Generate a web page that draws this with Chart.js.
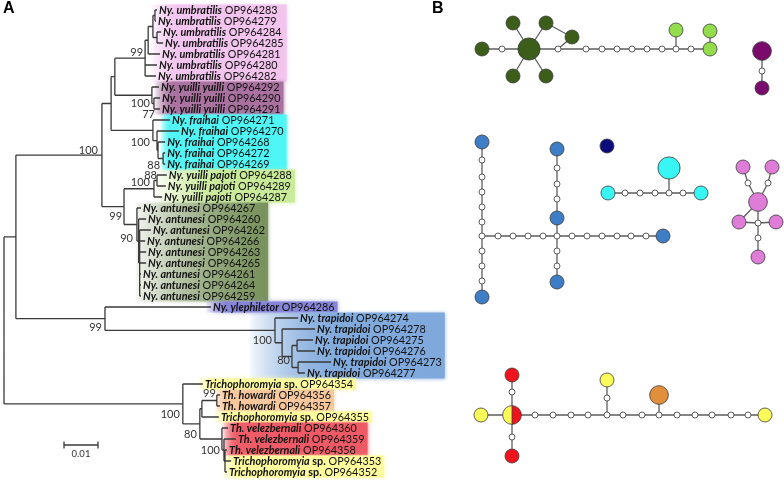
<!DOCTYPE html>
<html>
<head>
<meta charset="utf-8">
<script src="https://cdn.jsdelivr.net/npm/chart.js@4.4.1/dist/chart.umd.min.js"></script>
<style>
  html, body { margin: 0; padding: 0; background: #fff; }
  #wrap { width: 784px; height: 480px; }
</style>
</head>
<body>
<div id="wrap"><canvas id="chart" width="784" height="480"></canvas></div>
<script>
// ---------- panel A: ML tree ----------
const leafSpecies = [
  'Ny. umbratilis', 'Ny. umbratilis', 'Ny. umbratilis', 'Ny. umbratilis', 'Ny. umbratilis', 'Ny. umbratilis', 'Ny. umbratilis',
  'Ny. yuilli yuilli', 'Ny. yuilli yuilli', 'Ny. yuilli yuilli',
  'Ny. fraihai', 'Ny. fraihai', 'Ny. fraihai', 'Ny. fraihai', 'Ny. fraihai',
  'Ny. yuilli pajoti', 'Ny. yuilli pajoti', 'Ny. yuilli pajoti',
  'Ny. antunesi', 'Ny. antunesi', 'Ny. antunesi', 'Ny. antunesi', 'Ny. antunesi', 'Ny. antunesi', 'Ny. antunesi', 'Ny. antunesi', 'Ny. antunesi',
  'Ny. ylephiletor',
  'Ny. trapidoi', 'Ny. trapidoi', 'Ny. trapidoi', 'Ny. trapidoi', 'Ny. trapidoi', 'Ny. trapidoi',
  'Trichophoromyia sp.', 'Th. howardi', 'Th. howardi', 'Trichophoromyia sp.',
  'Th. velezbernali', 'Th. velezbernali', 'Th. velezbernali', 'Trichophoromyia sp.', 'Trichophoromyia sp.'
];
const leafAccession = [
  'OP964283', 'OP964279', 'OP964284', 'OP964285', 'OP964281', 'OP964280', 'OP964282',
  'OP964292', 'OP964290', 'OP964291',
  'OP964271', 'OP964270', 'OP964268', 'OP964272', 'OP964269',
  'OP964288', 'OP964289', 'OP964287',
  'OP964267', 'OP964260', 'OP964262', 'OP964266', 'OP964263', 'OP964265', 'OP964261', 'OP964264', 'OP964259',
  'OP964286',
  'OP964274', 'OP964278', 'OP964275', 'OP964276', 'OP964273', 'OP964277',
  'OP964354', 'OP964356', 'OP964357', 'OP964355',
  'OP964360', 'OP964359', 'OP964358', 'OP964353', 'OP964352'
];
const leafParent = [
  'U3', 'U3', 'U4', 'U4', 'U1', 'U', 'U',
  'Y', 'Y2', 'Y2',
  'F', 'F2', 'F3', 'F4', 'F4',
  'P2', 'P2', 'P',
  'An', 'An2', 'An3', 'An3', 'An3', 'An3', 'An3', 'An3', 'An3',
  'Q',
  'Tr', 'Tr2', 'Tr4', 'Tr4', 'Tr5', 'Tr5',
  'T', 'H', 'H', 'T3',
  'V', 'V2', 'V3', 'V3', 'V3'
];
// distance from the root (substitutions/site)
const leafDepth = [
  0.0450, 0.0447, 0.0462, 0.0468, 0.0459, 0.0450, 0.0447,
  0.0456, 0.0459, 0.0459,
  0.0488, 0.0515, 0.0474, 0.0474, 0.0474,
  0.0479, 0.0476, 0.0465,
  0.0403, 0.0418, 0.0432, 0.0415, 0.0418, 0.0418, 0.0403, 0.0403, 0.0403,
  0.0609,
  0.0865, 0.0915, 0.0909, 0.0915, 0.0962, 0.0885,
  0.0585, 0.0635, 0.0635, 0.0632,
  0.0659, 0.0682, 0.0656, 0.0668, 0.0656
];
const nodeIds    = ['R', 'Nys', 'A', 'B', 'UY', 'U', 'U1', 'U2', 'U3', 'U4', 'Y', 'Y2', 'F', 'F2', 'F3', 'F4',
                    'AP', 'P', 'P2', 'An', 'An2', 'An3', 'Q', 'Tr', 'Tr2', 'Tr3', 'Tr4', 'Tr5',
                    'T', 'T2', 'T3', 'H', 'V', 'V2', 'V3'];
const nodeParent = [null, 'R', 'Nys', 'A', 'B', 'UY', 'U', 'U1', 'U2', 'U2', 'UY', 'Y', 'B', 'F', 'F2', 'F3',
                    'A', 'AP', 'P', 'AP', 'An', 'An2', 'Nys', 'Q', 'Tr', 'Tr2', 'Tr3', 'Tr3',
                    'R', 'T', 'T2', 'T3', 'T2', 'V', 'V2'];
const nodeDepth  = [0, 0.0035, 0.0288, 0.0315, 0.0326, 0.0415, 0.0424, 0.0438, 0.0444, 0.0450, 0.0435, 0.0441, 0.0438, 0.0450, 0.0453, 0.0468,
                    0.0353, 0.0441, 0.0450, 0.0391, 0.0396, 0.0399, 0.0297, 0.0797, 0.0818, 0.0847, 0.0862, 0.0865,
                    0.0526, 0.0576, 0.0582, 0.0626, 0.0641, 0.0647, 0.0650];

const supportNodes  = ['A', 'U', 'Y', 'Y2', 'F', 'F4', 'P', 'P2', 'AP', 'An', 'Q', 'Tr', 'Tr3', 'H', 'T', 'T2', 'V'];
const supportValues = [100, 99, 100, 77, 100, 88, 100, 88, 99, 90, 99, 100, 80, 99, 100, 80, 100];

const cladeFirst  = [0, 7, 10, 15, 18, 27, 28, 34, 35, 37, 38, 41];
const cladeLast   = [6, 9, 14, 17, 26, 27, 33, 34, 36, 37, 40, 42];
const cladeColors = ['#f2c4ee', '#a9719f', '#4ff6f6', '#c9ea98', '#76905a', '#8583d6',
                     '#7fa9dc', '#fdfc9c', '#f8c79b', '#fdfc9c', '#ee5a66', '#fdfc9c'];

const scaleBarLength = 0.01;

// ---------- panel B: haplotype networks ----------
// layout units of the network drawing, count = sequences per haplotype (0 = median vector)
const hapIds = [
  'g1', 'm1', 'G', 'g2', 'g3', 'g4', 'g5', 'g6', 'm2', 'm3', 'm4', 'm5', 'm6', 'm7', 'm8', 'm9', 'm10', 'p1', 'p2', 'p3',
  'y1', 'm11', 'y2',
  'b1', 'a1', 'a2', 'a3', 'a4', 'a5', 'J1', 'a6', 'a7', 'a8', 'b2',
  'h1', 'h2', 'h3', 'h4', 'J2', 'h5', 'h6', 'h7', 'h8', 'h9', 'h10', 'b3',
  'b4', 'k1', 'k2', 'k3', 'b5', 'k4', 'k5', 'b6', 'n1',
  'c1', 'q1', 'q2', 'q3', 'Jc', 'q4', 'c2', 'C',
  'P', 'e1', 'r1', 'e2', 'r2', 'e3', 'e4', 'Jp', 'r3', 'e5',
  'yA', 'S', 'rT', 's1', 'rB', 's2', 't1', 't2', 't3', 't4', 'Jy', 't5', 't6', 'Jo', 't7', 't8', 't9', 't10', 't11', 'yB',
  's3', 'yC', 'O'
];
const hapU = [
  6.2, 8.2, 10.9, 9.3, 12.6, 15.2, 9.3, 12.6, 13.8, 16.6, 18.2, 19.7, 21.2, 22.7, 24.2, 25.6, 27.1, 29.0, 25.6, 29.0,
  34.2, 34.2, 34.2,
  6.2, 6.2, 6.2, 6.2, 6.2, 6.2, 6.2, 6.2, 6.2, 6.2, 6.2,
  7.8, 9.3, 10.8, 12.3, 13.7, 15.2, 16.7, 18.2, 19.7, 21.1, 22.6, 24.3,
  13.7, 13.7, 13.7, 13.7, 13.7, 13.7, 13.7, 13.7, 18.7,
  18.8, 20.5, 22.0, 23.5, 24.9, 26.3, 28.1, 24.9,
  33.8, 32.3, 32.8, 35.2, 34.8, 31.9, 35.6, 33.8, 33.8, 33.8,
  6.1, 9.2, 9.2, 9.2, 9.2, 9.2, 11.5, 13.3, 15.1, 16.8, 18.7, 20.3, 22.2, 23.9, 25.7, 27.5, 29.2, 31.1, 32.8, 34.5,
  18.7, 18.7, 23.9
];
const hapV = [
  4.9, 4.9, 4.9, 2.3, 2.3, 3.7, 7.6, 7.6, 4.9, 4.9, 4.9, 4.9, 4.9, 4.9, 4.9, 4.9, 4.9, 4.9, 3.0, 3.1,
  5.1, 7.1, 8.8,
  14.2, 16.0, 17.7, 19.2, 20.7, 22.2, 23.6, 25.1, 26.6, 28.1, 29.7,
  23.6, 23.6, 23.6, 23.6, 23.6, 23.6, 23.6, 23.6, 23.6, 23.6, 23.6, 23.6,
  21.8, 19.9, 18.4, 16.8, 14.9, 25.1, 26.6, 28.2, 14.6,
  19.3, 19.3, 19.3, 19.3, 19.3, 19.3, 19.3, 16.8,
  20.2, 16.7, 18.3, 16.7, 18.3, 22.2, 22.2, 22.3, 23.8, 25.7,
  41.5, 41.5, 37.5, 39.2, 45.6, 43.7, 41.5, 41.5, 41.5, 41.5, 41.5, 41.5, 41.5, 41.5, 41.5, 41.5, 41.5, 41.5, 41.5, 41.5,
  39.8, 38.0, 39.5
];
const hapCount = [
  1, 0, 3, 1, 1, 1, 1, 1, 0, 0, 0, 0, 0, 0, 0, 0, 0, 1, 1, 1,
  2, 0, 1,
  1, 0, 0, 0, 0, 0, 0, 0, 0, 0, 1,
  0, 0, 0, 0, 0, 0, 0, 0, 0, 0, 0, 1,
  1, 0, 0, 0, 1, 0, 0, 1, 1,
  1, 0, 0, 0, 0, 0, 1, 3,
  2, 1, 0, 1, 0, 1, 1, 0, 0, 1,
  1, 2, 1, 0, 1, 0, 0, 0, 0, 0, 0, 0, 0, 0, 0, 0, 0, 0, 0, 1,
  0, 1, 2
];
const hapTaxon = [
  'ant', 'med', 'ant', 'ant', 'ant', 'ant', 'ant', 'ant', 'med', 'med', 'med', 'med', 'med', 'med', 'med', 'med', 'med', 'paj', 'paj', 'paj',
  'yy', 'med', 'yy',
  'tra', 'med', 'med', 'med', 'med', 'med', 'med', 'med', 'med', 'med', 'tra',
  'med', 'med', 'med', 'med', 'med', 'med', 'med', 'med', 'med', 'med', 'med', 'tra',
  'tra', 'med', 'med', 'med', 'tra', 'med', 'med', 'tra', 'yle',
  'fra', 'med', 'med', 'med', 'med', 'med', 'fra', 'fra',
  'umb', 'umb', 'med', 'umb', 'med', 'umb', 'umb', 'med', 'med', 'umb',
  'tri', 'tri+vel', 'vel', 'med', 'vel', 'med', 'med', 'med', 'med', 'med', 'med', 'med', 'med', 'med', 'med', 'med', 'med', 'med', 'med', 'tri',
  'med', 'tri', 'how'
];
const netPaths = [
  ['g1', 'm1', 'G'], ['G', 'g2'], ['G', 'g3', 'g4', 'm2'], ['G', 'g5'], ['G', 'g6'],
  ['G', 'm2', 'm3', 'm4', 'm5', 'm6', 'm7', 'm8', 'm9', 'm10', 'p1', 'p3'], ['m9', 'p2'],
  ['y1', 'm11', 'y2'],
  ['b1', 'a1', 'a2', 'a3', 'a4', 'a5', 'J1', 'a6', 'a7', 'a8', 'b2'],
  ['J1', 'h1', 'h2', 'h3', 'h4', 'J2', 'h5', 'h6', 'h7', 'h8', 'h9', 'h10', 'b3'],
  ['J2', 'b4', 'k1', 'k2', 'k3', 'b5'], ['J2', 'k4', 'k5', 'b6'],
  ['c1', 'q1', 'q2', 'q3', 'Jc', 'q4', 'c2'], ['Jc', 'C'],
  ['e1', 'r1', 'P'], ['e2', 'r2', 'P'], ['e3', 'P'], ['P', 'Jp'], ['e3', 'Jp', 'e4'], ['Jp', 'r3', 'e5'],
  ['yA', 'S', 't1', 't2', 't3', 't4', 'Jy', 't5', 't6', 'Jo', 't7', 't8', 't9', 't10', 't11', 'yB'],
  ['S', 's1', 'rT'], ['S', 's2', 'rB'], ['Jy', 's3', 'yC'], ['Jo', 'O']
];

const taxonColor = {
  ant: '#3d5e1b', paj: '#93dd4c', yy: '#7a0b6d', tra: '#3d7ec6', yle: '#0b0b7c', fra: '#38f6f4',
  umb: '#de7cd8', tri: '#fbfb5a', vel: '#f0121c', how: '#e28f3c', med: '#ffffff'
};

// ---------- layout helpers ----------
const PX_PER_UNIT = 3400;   // tree: pixels per substitution/site
const LEAF_STEP = 11;       // tree: pixels between tips
const NET_UNIT = 10;        // network: pixels per layout unit
const LABEL_FONT = 10.8;

const nodeY = {}, nodeX = {};
nodeIds.forEach(function (id, i) { nodeX[id] = nodeDepth[i]; });
function childYs(id) {
  const ys = [];
  leafParent.forEach(function (p, j) { if (p === id) ys.push(j); });
  nodeParent.forEach(function (p, j) { if (p === id) ys.push(nodeY[nodeIds[j]]); });
  return ys;
}
for (let i = nodeIds.length - 1; i >= 0; i--) {
  const ys = childYs(nodeIds[i]);
  nodeY[nodeIds[i]] = (Math.min.apply(null, ys) + Math.max.apply(null, ys)) / 2;
}

const treeLines = [];
function addSeg(x1, y1, x2, y2) {
  treeLines.push({ x: x1, y: y1 }, { x: x2, y: y2 }, { x: x2, y: null });
}
leafParent.forEach(function (p, i) { addSeg(nodeX[p], i, leafDepth[i], i); });
nodeIds.forEach(function (id, i) {
  const p = nodeParent[i];
  if (p) addSeg(nodeX[p], nodeY[id], nodeX[id], nodeY[id]);
  const ys = childYs(id);
  addSeg(nodeX[id], Math.min.apply(null, ys), nodeX[id], Math.max.apply(null, ys));
});

const barX0 = (64 - 4) / PX_PER_UNIT;
const barY = (445 - 10) / LEAF_STEP;
const tick = 3.5 / LEAF_STEP;
const scaleBarLines = [
  { x: barX0, y: barY }, { x: barX0 + scaleBarLength, y: barY }, { x: null, y: null },
  { x: barX0, y: barY - tick }, { x: barX0, y: barY + tick }, { x: null, y: null },
  { x: barX0 + scaleBarLength, y: barY - tick }, { x: barX0 + scaleBarLength, y: barY + tick }
];

const hapIndex = {};
hapIds.forEach(function (id, i) { hapIndex[id] = i; });
const netLines = [];
netPaths.forEach(function (path) {
  path.forEach(function (id) { netLines.push({ x: hapU[hapIndex[id]], y: hapV[hapIndex[id]] }); });
  netLines.push({ x: hapU[0], y: null });
});
const hapPoints = hapIds.map(function (id, i) { return { x: hapU[i], y: hapV[i] }; });
function hapRadius(n) { return n === 0 ? 3 : 7 * Math.pow(n, 0.42); }

function splitMarker(r, left, right) {
  const c = document.createElement('canvas');
  const s = Math.ceil(2 * r + 3);
  c.width = s; c.height = s;
  const g = c.getContext('2d');
  const m = s / 2;
  g.fillStyle = left;
  g.beginPath(); g.arc(m, m, r, Math.PI / 2, Math.PI * 1.5); g.fill();
  g.fillStyle = right;
  g.beginPath(); g.arc(m, m, r, -Math.PI / 2, Math.PI / 2); g.fill();
  g.strokeStyle = '#3a3a3a'; g.lineWidth = 0.8;
  g.beginPath(); g.arc(m, m, r, 0, Math.PI * 2); g.stroke();
  g.beginPath(); g.moveTo(m, m - r); g.lineTo(m, m + r); g.stroke();
  return c;
}

// per-label placement of bootstrap values, in pixels (right-aligned)
const supportOffset = {
  A: [-4, -5], U: [-2, -6], Y: [-2, 8], Y2: [1, 11], F: [-3, 12], F4: [-3, 7], P: [-4, -6], P2: [0, -5],
  AP: [-2, 10], An: [-4, 14], Q: [-3, 9], Tr: [-3, 10], Tr3: [-2, 4], H: [-1, -7], T: [-3, 11], T2: [-3, 11], V: [-2, 11]
};
const cladeFade = [0.2, 0.15, 0.08, 0.45, 1.0, 0.15, 0.45, 0.1, 0.1, 0.1, 0.1, 0.1];
const cladePadLeft = [7, 7, 7, 7, 7, 7, 50, 7, 7, 7, 7, 7];

function hexRgba(hex, a) {
  const n = parseInt(hex.slice(1), 16);
  return 'rgba(' + (n >> 16) + ',' + ((n >> 8) & 255) + ',' + (n & 255) + ',' + a + ')';
}

function drawLeafLabel(ctx, x, y, sp, acc, measureOnly) {
  let genus = sp, suffix = '';
  if (sp.endsWith(' sp.')) { genus = sp.slice(0, -4); suffix = ' sp.'; }
  const parts = [
    ['italic bold ' + LABEL_FONT + 'px Lato', genus],
    ['bold ' + LABEL_FONT + 'px Lato', suffix],
    [LABEL_FONT + 'px Lato', ' ' + acc]
  ];
  parts.forEach(function (pt) {
    if (!pt[1]) return;
    ctx.font = pt[0];
    if (!measureOnly) ctx.fillText(pt[1], x, y);
    x += ctx.measureText(pt[1]).width;
  });
  return x;
}

const treeDecor = {
  id: 'treeDecor',
  beforeDatasetsDraw(chart) {
    const ctx = chart.ctx, sx = chart.scales.xT, sy = chart.scales.yT;
    ctx.save();
    cladeFirst.forEach(function (first, k) {
      let left = Infinity, right = -Infinity;
      for (let i = first; i <= cladeLast[k]; i++) {
        const tx = sx.getPixelForValue(leafDepth[i]) + 2;
        left = Math.min(left, tx);
        right = Math.max(right, drawLeafLabel(ctx, tx, 0, leafSpecies[i], leafAccession[i], true));
      }
      left -= cladePadLeft[k]; right += 3;
      const top = sy.getPixelForValue(first) - 5.5;
      const bottom = sy.getPixelForValue(cladeLast[k]) + 5.5;
      const col = cladeColors[k];
      const g = ctx.createLinearGradient(left, 0, right, 0);
      g.addColorStop(0, hexRgba(col, 0.05));
      g.addColorStop(cladeFade[k], hexRgba(col, 0.95));
      g.addColorStop(1, hexRgba(col, 1));
      ctx.shadowColor = hexRgba(col, 0.8);
      ctx.shadowBlur = 4;
      ctx.fillStyle = g;
      ctx.fillRect(left, top, right - left, bottom - top);
    });
    ctx.restore();
  },
  afterDatasetsDraw(chart) {
    const ctx = chart.ctx, sx = chart.scales.xT, sy = chart.scales.yT;
    ctx.save();
    ctx.fillStyle = '#111';
    ctx.textBaseline = 'middle';
    ctx.textAlign = 'left';
    leafSpecies.forEach(function (sp, i) {
      drawLeafLabel(ctx, sx.getPixelForValue(leafDepth[i]) + 2, sy.getPixelForValue(i) + 0.5, sp, leafAccession[i], false);
    });
    ctx.fillStyle = '#333';
    ctx.textAlign = 'right';
    ctx.font = '11px Lato';
    supportNodes.forEach(function (id, k) {
      const off = supportOffset[id];
      ctx.fillText(String(supportValues[k]), sx.getPixelForValue(nodeX[id]) + off[0], sy.getPixelForValue(nodeY[id]) + off[1]);
    });
    ctx.textAlign = 'center';
    ctx.font = '9.5px Lato';
    ctx.fillText(String(scaleBarLength), sx.getPixelForValue(barX0 + scaleBarLength / 2), sy.getPixelForValue(barY) + 9);
    ctx.fillStyle = '#000';
    ctx.textAlign = 'left';
    ctx.textBaseline = 'top';
    ctx.font = 'bold 16px "Liberation Sans"';
    ctx.fillText('A', 3, 1);
    ctx.fillText('B', 432, 1);
    ctx.restore();
  }
};

const treeSx = { type: 'linear', axis: 'x', display: false, min: -4 / PX_PER_UNIT, max: 780 / PX_PER_UNIT };
const treeSy = { type: 'linear', axis: 'y', display: false, reverse: true, min: -10 / LEAF_STEP, max: 470 / LEAF_STEP };
const netSx = { type: 'linear', axis: 'x', display: false, min: -420 / NET_UNIT, max: 364 / NET_UNIT };
const netSy = { type: 'linear', axis: 'y', display: false, reverse: true, min: 0, max: 480 / NET_UNIT };

const splitImg = splitMarker(hapRadius(2), taxonColor.tri, taxonColor.vel);

new Chart(document.getElementById('chart'), {
  type: 'scatter',
  data: {
    datasets: [
      {
        label: 'tree', data: treeLines, xAxisID: 'xT', yAxisID: 'yT', showLine: true, spanGaps: false,
        borderColor: '#3a3a3a', borderWidth: 1.3, pointRadius: 0, order: 3
      },
      {
        label: 'scale', data: scaleBarLines, xAxisID: 'xT', yAxisID: 'yT', showLine: true, spanGaps: false,
        borderColor: '#3a3a3a', borderWidth: 1.3, pointRadius: 0, order: 3
      },
      {
        label: 'links', data: netLines, xAxisID: 'xN', yAxisID: 'yN', showLine: true, spanGaps: false,
        borderColor: '#5e5e5e', borderWidth: 1.3, pointRadius: 0, order: 2
      },
      {
        label: 'haplotypes', data: hapPoints, xAxisID: 'xN', yAxisID: 'yN', showLine: false, order: 1,
        pointRadius: function (c) { return hapRadius(hapCount[c.dataIndex]); },
        pointBackgroundColor: function (c) { return taxonColor[hapTaxon[c.dataIndex]] || '#fff'; },
        pointStyle: function (c) { return hapTaxon[c.dataIndex] === 'tri+vel' ? splitImg : 'circle'; },
        pointBorderColor: '#3a3a3a', pointBorderWidth: 0.8
      }
    ]
  },
  options: {
    responsive: false,
    animation: false,
    devicePixelRatio: 1,
    events: [],
    layout: { padding: 0, autoPadding: false },
    plugins: { legend: { display: false }, tooltip: { enabled: false } },
    scales: { xT: treeSx, yT: treeSy, xN: netSx, yN: netSy }
  },
  plugins: [treeDecor]
});
</script>
</body>
</html>
